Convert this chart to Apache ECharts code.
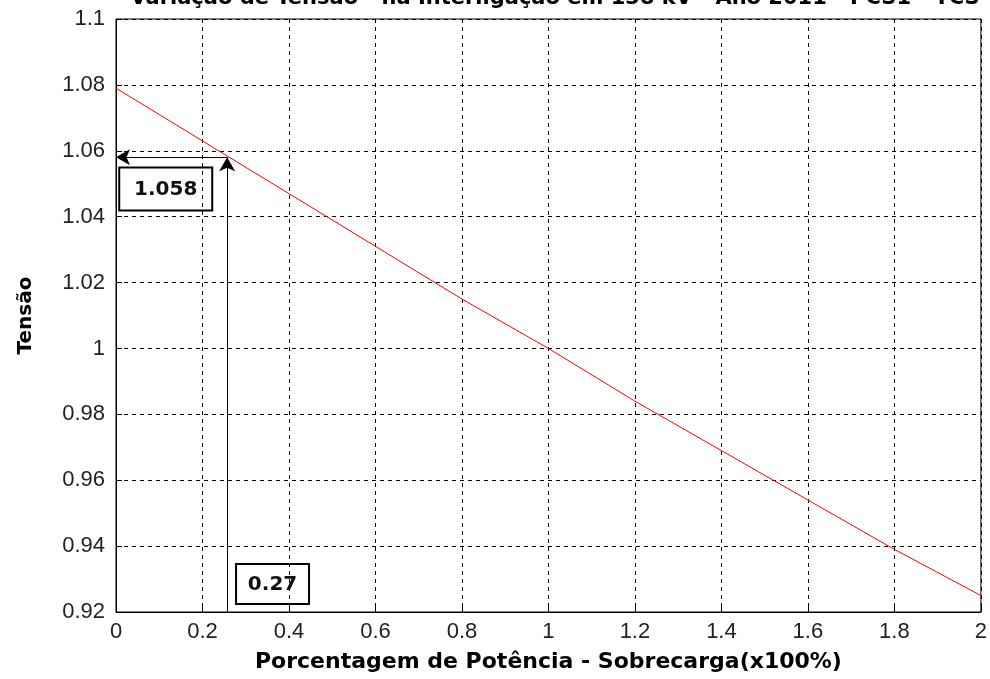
<!DOCTYPE html>
<html><head><meta charset="utf-8">
<script src="https://cdn.jsdelivr.net/npm/echarts@6/dist/echarts.min.js"></script>
<style>html,body{margin:0;padding:0;background:#fff}#c{width:990px;height:679px}</style>
</head><body><div id="c"></div>
<script>
const titleText = 'Variação de Tensão - na Interligação em 138 kV - Ano 2011 - PCS1 - TCS';
const xValues = [0, 0.2, 0.4, 0.6, 0.8, 1.0, 1.2, 1.4, 1.6, 1.8, 2.0];
const yValues = [1.079, 1.063, 1.047, 1.031, 1.015, 1.000, 0.984, 0.969, 0.954, 0.939, 0.925];
const markX = 0.257, markY = 1.058;
const labelX = '0.27', labelY = '1.058';
const labelYPos = [0.115, 1.0484];
const labelXPos = [0.362, 0.9285];

const chart = echarts.init(document.getElementById('c'));
const font = 'DejaVu Sans, sans-serif';
const tickFont = 'Liberation Sans, Arial, sans-serif';
const gridLine = {show: true, lineStyle: {color: '#000', type: [4, 4], width: 1}};
chart.setOption({
  animation: false,
  backgroundColor: '#fff',
  title: {text: titleText, left: 550, textAlign: 'center', top: -17,
    textStyle: {fontFamily: font, fontSize: 21, fontWeight: 'bold', color: '#000'}},
  grid: {left: 116, right: 7, top: 19, bottom: 67, show: true, borderColor: '#000', borderWidth: 1},
  xAxis: {type: 'value', min: 0, max: 2, interval: 0.2,
    name: 'Porcentagem de Potência - Sobrecarga(x100%)', nameLocation: 'middle', nameGap: 39,
    nameTextStyle: {fontFamily: font, fontSize: 22, fontWeight: 'bold', color: '#000'},
    axisLine: {show: true, lineStyle: {color: '#000'}},
    axisTick: {show: true, inside: true, length: 6, lineStyle: {color: '#000'}},
    axisLabel: {fontFamily: tickFont, fontSize: 22, color: '#222', margin: 9,
      formatter: v => String(Math.round(v * 10) / 10)},
    splitLine: gridLine},
  yAxis: {type: 'value', min: 0.92, max: 1.1, interval: 0.02,
    name: 'Tensão', nameLocation: 'middle', nameGap: 80,
    nameTextStyle: {fontFamily: font, fontSize: 20, fontWeight: 'bold', color: '#000'},
    axisLine: {show: true, lineStyle: {color: '#000'}},
    axisTick: {show: true, inside: true, length: 6, lineStyle: {color: '#000'}},
    axisLabel: {fontFamily: tickFont, fontSize: 22, color: '#222', margin: 11,
      formatter: v => String(Math.round(v * 100) / 100)},
    splitLine: gridLine},
  series: [{
    type: 'line', data: xValues.map((x, i) => [x, yValues[i]]),
    showSymbol: false, lineStyle: {color: '#ff0000', width: 1}, silent: true,
    markLine: {silent: true, symbol: ['none', 'arrow'], symbolSize: [12, 14],
      lineStyle: {color: '#000', type: 'solid', width: 1}, label: {show: false},
      data: [
        [{coord: [markX, markY]}, {coord: [0, markY]}],
        [{coord: [markX, 0.92]}, {coord: [markX, markY]}]
      ]}
  }]
});
function box(pos, txt, w, h) {
  const p = chart.convertToPixel({gridIndex: 0}, pos);
  return {type: 'group', x: p[0], y: p[1], children: [
    {type: 'rect', shape: {x: -w / 2, y: -h / 2, width: w, height: h},
      style: {fill: 'none', stroke: '#000', lineWidth: 2}},
    {type: 'text', style: {text: txt, x: 0, y: 1, align: 'center', verticalAlign: 'middle',
      font: 'bold 20px ' + font, fill: '#111'}}
  ]};
}
chart.setOption({graphic: [box(labelYPos, labelY, 93, 43), box(labelXPos, labelX, 73, 40)]});
</script></body></html>
